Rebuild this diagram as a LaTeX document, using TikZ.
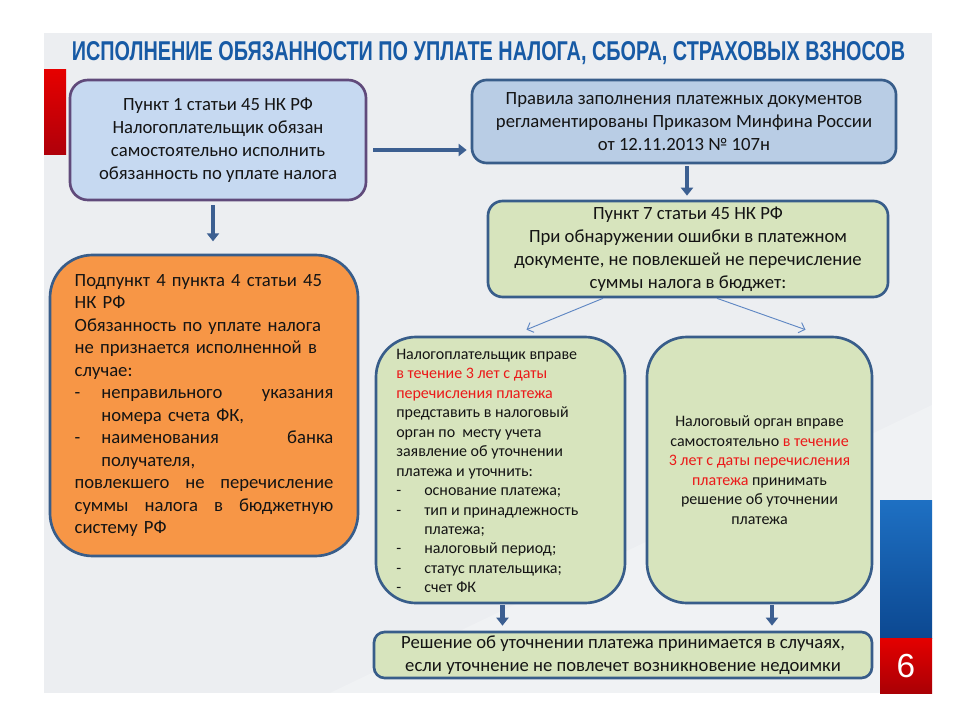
\documentclass[tikz,border=0pt]{standalone}
\usepackage{fontspec}
\setmainfont{Carlito}
\newfontfamily\titlefont{Liberation Sans}
\usetikzlibrary{arrows.meta,calc}
\definecolor{bgpanel}{RGB}{236,238,241}
\definecolor{titleblue}{RGB}{23,90,165}
\definecolor{txt}{RGB}{20,20,20}
\definecolor{redtxt}{RGB}{235,25,25}
\definecolor{bordblue}{RGB}{56,93,138}
\definecolor{bordpurple}{RGB}{96,74,123}
\definecolor{fillone}{RGB}{198,217,241}
\definecolor{filltwo}{RGB}{185,205,229}
\definecolor{fillgreen}{RGB}{215,228,189}
\definecolor{fillorange}{RGB}{247,150,70}
\definecolor{arrowblue}{RGB}{60,95,145}
\definecolor{thinblue}{RGB}{95,135,195}
\newcommand\jl[1]{\leavevmode\hbox to 194pt{#1}}
\newcommand\bl[1]{\leavevmode\hbox to 194pt{\hbox to 20pt{-\hfil}#1}}
\newcommand\rt[1]{\textcolor{redtxt}{#1}}
\begin{document}
\begin{tikzpicture}[x=0.75pt,y=-0.75pt,
  boxbase/.style={draw=bordblue, line width=2pt, text=txt, inner sep=0pt},
  bigtext/.style={font=\fontsize{14}{17.2}\selectfont, align=center},
  smalltext/.style={font=\fontsize{12}{14.6}\selectfont},
  thickarrow/.style={draw=arrowblue, line width=3.6pt, -{Triangle[width=9pt,length=6pt]}},
  thinarrow/.style={draw=thinblue, line width=0.7pt, -{Straight Barb[width=8pt,length=4pt]}}]
\useasboundingbox (0,0) rectangle (960,720);
\fill[white] (0,0) rectangle (960,720);
\fill[bgpanel] (44,33) rectangle (932,693);
\fill[white, opacity=0.25] (330,693) -- (880,430) -- (932,405) -- (932,693) -- cycle;
% side bars
\shade[top color={rgb,255:red,230;green,0;blue,0}, bottom color={rgb,255:red,175;green,0;blue,10}] (44,70) rectangle (66,155);
\shade[top color={rgb,255:red,30;green,112;blue,195}, bottom color={rgb,255:red,12;green,72;blue,145}] (880,500) rectangle (932,638);
\shade[top color={rgb,255:red,228;green,0;blue,0}, bottom color={rgb,255:red,170;green,0;blue,5}] (880,638) rectangle (932,693);
\node[text=white, font=\titlefont\fontsize{25}{25}\selectfont] (pagenum) at (906,666) {6};
% title
\node[anchor=base, inner sep=0pt, text=titleblue] (title) at (488.5,61)
  {\resizebox{625pt}{14.25pt}{\titlefont\bfseries ИСПОЛНЕНИЕ ОБЯЗАННОСТИ ПО УПЛАТЕ НАЛОГА, СБОРА, СТРАХОВЫХ ВЗНОСОВ}};
% boxes
\node[boxbase, bigtext, draw=bordpurple, fill=fillone, rounded corners=13.5pt,
  minimum width=222pt, minimum height=90pt] (b1) at (218,140)
  {Пункт 1 статьи 45 НК РФ\\Налогоплательщик обязан\\самостоятельно исполнить\\обязанность по уплате налога};
\node[boxbase, bigtext, fill=filltwo, rounded corners=11pt,
  minimum width=318pt, minimum height=62.25pt] (b2) at (684,121.5)
  {Правила заполнения платежных документов\\регламентированы Приказом Минфина России\\от 12.11.2013 № 107н};
\node[boxbase, bigtext, fill=fillgreen, rounded corners=11pt,
  minimum width=300pt, minimum height=72pt] (b3) at (688,249)
  {Пункт 7 статьи 45 НК РФ\\При обнаружении ошибки в платежном\\документе, не повлекшей не перечисление\\суммы налога в бюджет:};
\node[boxbase, fill=fillorange, rounded corners=32pt, font=\fontsize{14}{16.9}\selectfont,
  align=left, text width=194pt, minimum width=231pt, minimum height=225.75pt] (or) at (204,405.5)
  {Подпункт 4 пункта 4 статьи 45\\
   НК РФ\\
   Обязанность по уплате налога\\
   не признается исполненной в\\
   случае:\\
   \bl{неправильного\hfill указания}\\
   \hspace*{20pt}номера счета ФК,\\
   \bl{наименования\hfill банка}\\
   \hspace*{20pt}получателя,\\
   \jl{повлекшего\hfill не\hfill перечисление}\\
   \jl{суммы\hfill налога\hfill в\hfill бюджетную}\\
   систему РФ};
\node[boxbase, fill=fillgreen, rounded corners=30pt,
  minimum width=186.75pt, minimum height=199.5pt] (g1) at (500.5,470) {};
\node[anchor=west, inner sep=0pt, smalltext, align=left, text=txt] (g1t) at (396,471)
  {Налогоплательщик вправе\\
   \rt{в течение 3 лет с даты}\\
   \rt{перечисления платежа}\\
   представить в налоговый\\
   орган по\ \ месту учета\\
   заявление об уточнении\\
   платежа и уточнить:\\
   \makebox[21pt][l]{-}основание платежа;\\
   \makebox[21pt][l]{-}тип и принадлежность\\
   \hspace*{21pt}платежа;\\
   \makebox[21pt][l]{-}налоговый период;\\
   \makebox[21pt][l]{-}статус плательщика;\\
   \makebox[21pt][l]{-}счет ФК};
\node[boxbase, fill=fillgreen, rounded corners=30pt, smalltext, align=center,
  minimum width=168.75pt, minimum height=199.5pt] (g2) at (759.5,470)
  {Налоговый орган вправе\\
   самостоятельно \rt{в течение}\\
   \rt{3 лет с даты перечисления}\\
   \rt{платежа} принимать\\
   решение об уточнении\\
   платежа};
\node[boxbase, bigtext, fill=fillgreen, rounded corners=8pt,
  minimum width=373.5pt, minimum height=34.5pt] (bot) at (623,655)
  {Решение об уточнении платежа принимается в случаях,\\если уточнение не повлечет возникновение недоимки};
% arrows
\coordinate (hline) at (0,150);
\draw[thickarrow] ($(b1.east|-hline)+(6,0)$) -- ($(b2.west|-hline)+(-4,0)$);
\draw[thickarrow] ($(b1.south)+(-5,4)$) -- ($(b1.south)+(-5,40)$);
\draw[thickarrow] ($(b2.south)+(3,2)$) -- ($(b3.north)+(-1,-4)$);
\draw[thinarrow] ($(b3.south)+(-85,0)$) -- ($(g1.north)+(26,-6)$);
\draw[thinarrow] ($(b3.south)+(29,0)$) -- ($(g2.north)+(46,-6)$);
\draw[thickarrow] ($(g1.south)+(2,1)$) -- ($(g1.south|-bot.north)+(2,-5)$);
\draw[thickarrow] ($(g2.south)+(12.5,1)$) -- ($(g2.south|-bot.north)+(12.5,-5)$);
\end{tikzpicture}
\end{document}
